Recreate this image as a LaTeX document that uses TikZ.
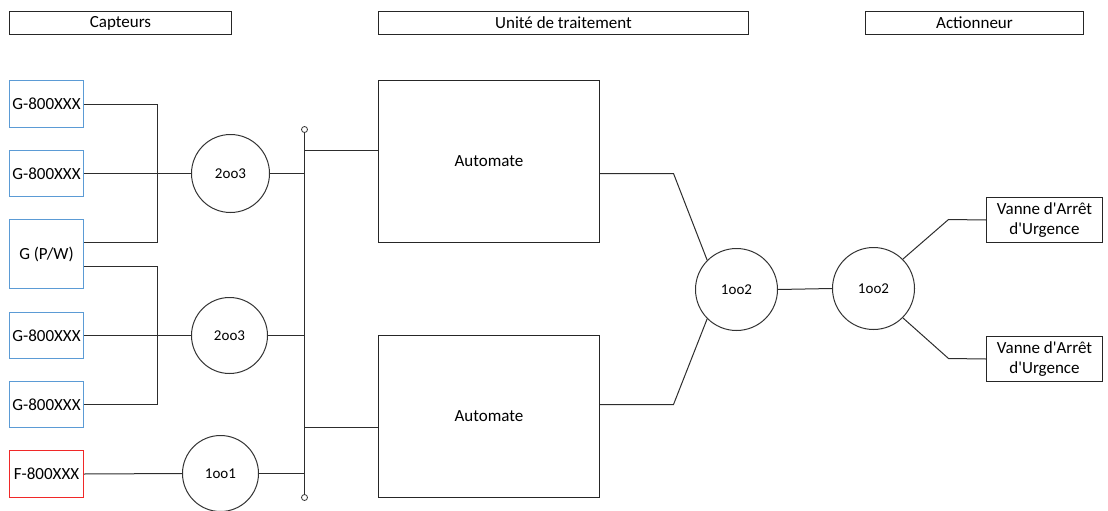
\documentclass[tikz,border=0pt]{standalone}
\usepackage{fontspec}
\setmainfont{Carlito}[Ligatures=TeXOff]
\usetikzlibrary{calc}

\definecolor{sensblue}{RGB}{91,155,213}
\definecolor{sensred}{RGB}{240,40,40}
\definecolor{wire}{RGB}{45,45,45}

\tikzset{
  every node/.style={font=\fontsize{17}{20}\selectfont, text=black},
  box/.style={draw=black!85, line width=1pt, inner sep=0pt, align=center},
  sensor/.style={box, draw=sensblue, minimum width=74pt},
  fsensor/.style={box, draw=sensred, minimum width=74pt},
  gate/.style={circle, draw=black!80, line width=1pt, inner sep=0pt,
               font=\fontsize{15}{18}\selectfont},
  tap/.style={circle, draw=black!80, line width=0.8pt, inner sep=0pt, minimum size=6pt},
  wireline/.style={draw=wire, line width=1pt},
}

\begin{document}
\begin{tikzpicture}[x=1pt, y=-1pt]
\useasboundingbox (0,0) rectangle (1108,511);

% half-pixel offset keeps one-pixel strokes sharp
\begin{scope}[shift={(0.5,0.5)}]

% column headers
\node[box, minimum width=222pt, minimum height=23pt] (hcap) at (120,22.5) {Capteurs};
\node[box, minimum width=370pt, minimum height=23pt] (hunit) at (563,22.5) {Unité de traitement};
\node[box, minimum width=218pt, minimum height=23pt] (hact) at (974,22.5) {Actionneur};

% sensors
\node[sensor, minimum height=47pt] (s1) at (46,103.5) {G-800XXX};
\node[sensor, minimum height=46pt] (s2) at (46,173) {G-800XXX};
\node[sensor, minimum height=69pt] (s3) at (46,253.5) {G (P/W)};
\node[sensor, minimum height=46pt] (s4) at (46,335) {G-800XXX};
\node[sensor, minimum height=46pt] (s5) at (46,404) {G-800XXX};
\node[fsensor, minimum height=47pt] (s6) at (46,473.5) {F-800XXX};

% voting gates on the sensor side
\node[gate, minimum size=78pt] (g1) at (230,173) {2oo3};
\node[gate, minimum size=76pt] (g2) at (229,335) {2oo3};
\node[gate, minimum size=76pt] (g3) at (220,473) {1oo1};

% bus with end taps
\node[tap] (t1) at (304,129) {};
\node[tap] (t2) at (304,497) {};
\coordinate (k1) at (304,150);
\coordinate (k2) at (304,427);

% logic solvers
\node[box, minimum width=221pt, minimum height=162pt] (a1) at (488.5,161) {Automate};
\node[box, minimum width=221pt, minimum height=162pt] (a2) at (488.5,416) {Automate};

% output voting
\node[gate, minimum size=82pt] (v1) at (736,289) {1oo2};
\node[gate, minimum size=82pt] (v2) at (873,288) {1oo2};

% final elements
\node[box, minimum width=116pt, minimum height=45pt] (e1) at (1044,219.5) {Vanne d'Arrêt\\d'Urgence};
\node[box, minimum width=116pt, minimum height=45pt] (e2) at (1044,358.5) {Vanne d'Arrêt\\d'Urgence};

% junction points
\coordinate (jA) at (157,242);
\coordinate (jB) at (157,266);
\coordinate (jC) at (157,404);
\coordinate (m1) at (673,173);
\coordinate (m2) at (673,404);
\coordinate (n1) at (948,219);
\coordinate (n2) at (948,358);

% sensor wiring
\draw[wireline] (s1.east) -| (jA) -- (s3.east |- jA);
\draw[wireline] (s2.east) -- (g1.west);
\draw[wireline] (s3.east |- jB) -| (jC) -- (s5.east);
\draw[wireline] (s4.east) -- (g2.west);
\draw[wireline] (s6.east) -- (g3.west);

% gates to bus
\draw[wireline] (g1.east) -- (g1.east -| t1);
\draw[wireline] (g2.east) -- (g2.east -| t1);
\draw[wireline] (g3.east) -- (g3.east -| t1);
\draw[wireline] (t1.south) -- (t2.north);

% bus to logic solvers
\draw[wireline] (k1) -- (a1.west |- k1);
\draw[wireline] (k2) -- (a2.west |- k2);

% logic solvers to output voting
\draw[wireline] (a1.east |- m1) -- (m1) -- (v1.135);
\draw[wireline] (a2.east |- m2) -- (m2) -- (v1.225);
\draw[wireline] (v1.east) -- (v2.west);

% output voting to valves
\draw[wireline] (v2.45) -- (n1) -- (e1.west);
\draw[wireline] (v2.-45) -- (n2) -- (e2.west);

\end{scope}
\end{tikzpicture}
\end{document}
